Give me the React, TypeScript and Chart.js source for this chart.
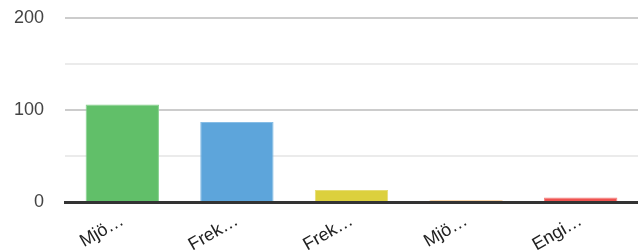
import React, { useEffect, useRef } from "react";
import { Chart, registerables } from "chart.js";

Chart.register(...registerables);

const categories = ["Mjö…", "Frek…", "Frek…", "Mjö…", "Engi…"];
const values = [106, 87, 13, 2, 5];
const barColors = ["#61bf69", "#5da5db", "#dcd03d", "#f5a94a", "#ef5350"];
const barBorders = ["#86d08d", "#86bde6", "#e6dc74", "#f8c27e", "#f48482"];
const yTicks = [0, 100, 200];

export default function App() {
  const ref = useRef<HTMLCanvasElement | null>(null);

  useEffect(() => {
    document.body.style.margin = "0";
    const ctx = ref.current!;
    const chart = new Chart(ctx, {
      type: "bar",
      data: {
        labels: categories,
        datasets: [
          {
            data: values,
            backgroundColor: barColors,
            borderColor: barBorders,
            borderWidth: 1,
            categoryPercentage: 0.64,
            barPercentage: 1,
          },
        ],
      },
      options: {
        animation: false,
        responsive: false,
        maintainAspectRatio: false,
        layout: { padding: { top: 18, right: 0, left: 0, bottom: 0 } },
        plugins: { legend: { display: false }, tooltip: { enabled: false } },
        scales: {
          x: {
            z: 1,
            grid: { display: false, drawTicks: false },
            border: { display: true, color: "#333333", width: 3 },
            ticks: {
              minRotation: 30,
              maxRotation: 30,
              padding: 8,
              color: "#222222",
              font: { family: "Liberation Sans, Arial, sans-serif", size: 18 },
            },
            afterFit: (s: any) => {
              s.height = 49;
              s.paddingTop = 0;
              s.paddingBottom = 0;
              s.paddingLeft = 0;
              s.paddingRight = 0;
            },
          },
          y: {
            min: 0,
            max: 200,
            border: { display: false },
            grid: {
              drawTicks: false,
              lineWidth: 2,
              color: (c: any) => {
                const v = c.tick ? c.tick.value : 0;
                if (v === 0) return "rgba(0,0,0,0)";
                return yTicks.includes(v) ? "#cccccc" : "#ebebeb";
              },
            },
            ticks: {
              stepSize: 50,
              padding: 21,
              color: "#444444",
              font: { family: "Liberation Sans, Arial, sans-serif", size: 18 },
              callback: (v: any) => (yTicks.includes(Number(v)) ? String(v) : ""),
            },
            afterFit: (s: any) => {
              s.width = 65;
              s.paddingTop = 0;
              s.paddingBottom = 0;
            },
          },
        },
      },
    });
    return () => chart.destroy();
  }, []);

  return <canvas ref={ref} width={638} height={251} style={{ display: "block" }} />;
}
